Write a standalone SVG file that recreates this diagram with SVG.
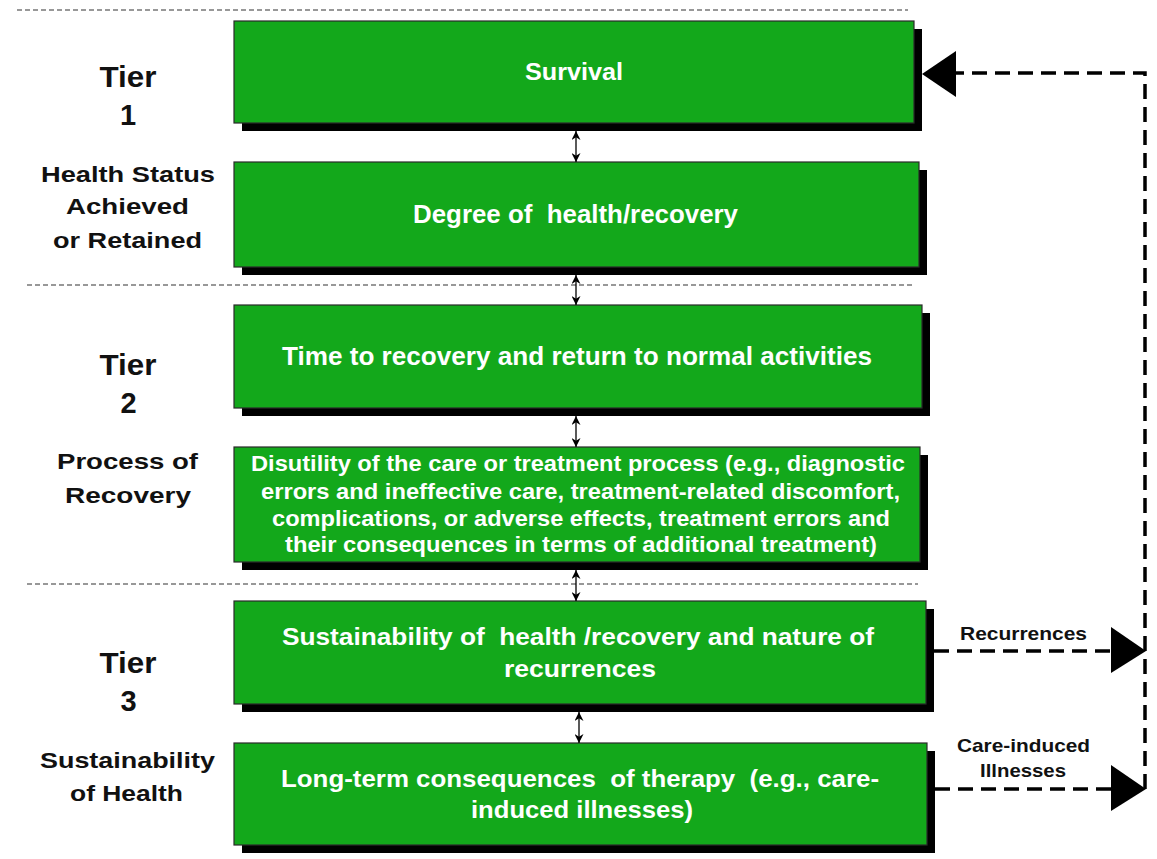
<svg xmlns="http://www.w3.org/2000/svg" width="1157" height="859" viewBox="0 0 1157 859">
<style>
.box{fill:#13a81b;stroke:#2a2a2a;stroke-width:1.2}
.shadow{fill:#000}
.bt{font-family:"Liberation Sans",Arial,sans-serif;font-weight:bold;fill:#fff;text-anchor:middle}
.lt{font-family:"Liberation Sans",Arial,sans-serif;font-weight:bold;fill:#111;text-anchor:middle}
.sep{stroke:#777;stroke-width:1.5;stroke-dasharray:5 3;fill:none}
.fb{stroke:#000;stroke-width:3.5;stroke-dasharray:15 8;fill:none}
.dbl{stroke:#000;stroke-width:1.3;fill:none;marker-start:url(#sh);marker-end:url(#sh)}
</style>
<defs>
<marker id="sh" viewBox="0 0 10 10" refX="10" refY="5" markerWidth="9" markerHeight="9" markerUnits="userSpaceOnUse" orient="auto-start-reverse">
<path d="M0,0 L10,5 L0,10 L3,5 Z" fill="#000"/>
</marker>
</defs>

<g id="separators">
<line class="sep" x1="17" y1="10" x2="908" y2="10"/>
<line class="sep" x1="27" y1="285" x2="915" y2="285"/>
<line class="sep" x1="27" y1="584" x2="918" y2="584"/>
</g>

<g id="tier-labels">
<text class="lt" x="128" y="87" font-size="29" textLength="57" lengthAdjust="spacingAndGlyphs">Tier</text>
<text class="lt" x="128" y="125" font-size="29">1</text>
<text class="lt" x="128" y="182" font-size="22.5" textLength="174" lengthAdjust="spacingAndGlyphs">Health Status</text>
<text class="lt" x="127.5" y="214" font-size="22.5" textLength="123" lengthAdjust="spacingAndGlyphs">Achieved</text>
<text class="lt" x="127.5" y="248" font-size="22.5" textLength="149" lengthAdjust="spacingAndGlyphs">or Retained</text>
<text class="lt" x="128" y="375" font-size="29" textLength="57" lengthAdjust="spacingAndGlyphs">Tier</text>
<text class="lt" x="128.5" y="413" font-size="29">2</text>
<text class="lt" x="127.5" y="469" font-size="22.5" textLength="141" lengthAdjust="spacingAndGlyphs">Process of</text>
<text class="lt" x="128" y="503" font-size="22.5" textLength="126" lengthAdjust="spacingAndGlyphs">Recovery</text>
<text class="lt" x="128" y="673" font-size="29" textLength="57" lengthAdjust="spacingAndGlyphs">Tier</text>
<text class="lt" x="128.5" y="711" font-size="29">3</text>
<text class="lt" x="127.5" y="768" font-size="22.5" textLength="175" lengthAdjust="spacingAndGlyphs">Sustainability</text>
<text class="lt" x="126.5" y="801" font-size="22.5" textLength="113" lengthAdjust="spacingAndGlyphs">of Health</text>
</g>

<g id="node-survival">
<rect class="shadow" x="242" y="29" width="680" height="102"/>
<rect class="box" x="234" y="21" width="680" height="102"/>
<text class="bt" x="574" y="80" font-size="24" textLength="98" lengthAdjust="spacingAndGlyphs">Survival</text>
</g>

<g id="node-degree">
<rect class="shadow" x="242" y="170" width="685" height="105"/>
<rect class="box" x="234" y="162" width="685" height="105"/>
<text class="bt" x="575.5" y="223" font-size="25" textLength="325" lengthAdjust="spacingAndGlyphs" xml:space="preserve">Degree of  health/recovery</text>
</g>

<g id="node-time">
<rect class="shadow" x="242" y="313" width="688" height="103"/>
<rect class="box" x="234" y="305" width="688" height="103"/>
<text class="bt" x="577" y="365" font-size="25" textLength="590" lengthAdjust="spacingAndGlyphs">Time to recovery and return to normal activities</text>
</g>

<g id="node-disutility">
<rect class="shadow" x="242" y="455" width="686" height="115"/>
<rect class="box" x="234" y="447" width="686" height="115"/>
<text class="bt" x="578" y="471" font-size="21.5" textLength="654" lengthAdjust="spacingAndGlyphs">Disutility of the care or treatment process (e.g., diagnostic</text>
<text class="bt" x="580.5" y="499" font-size="21.5" textLength="639" lengthAdjust="spacingAndGlyphs">errors and ineffective care, treatment-related discomfort,</text>
<text class="bt" x="581" y="526" font-size="21.5" textLength="618" lengthAdjust="spacingAndGlyphs">complications, or adverse effects, treatment errors and</text>
<text class="bt" x="581" y="552" font-size="21.5" textLength="592" lengthAdjust="spacingAndGlyphs">their consequences in terms of additional treatment)</text>
</g>

<g id="node-sustainability">
<rect class="shadow" x="242" y="609" width="692" height="103"/>
<rect class="box" x="234" y="601" width="692" height="103"/>
<text class="bt" x="578" y="645" font-size="24" textLength="592" lengthAdjust="spacingAndGlyphs" xml:space="preserve">Sustainability of  health /recovery and nature of</text>
<text class="bt" x="580" y="677" font-size="24" textLength="152" lengthAdjust="spacingAndGlyphs">recurrences</text>
</g>

<g id="node-longterm">
<rect class="shadow" x="242" y="751" width="693" height="102"/>
<rect class="box" x="234" y="743" width="693" height="102"/>
<text class="bt" x="580" y="787" font-size="24" textLength="598" lengthAdjust="spacingAndGlyphs" xml:space="preserve">Long-term consequences  of therapy  (e.g., care-</text>
<text class="bt" x="582" y="818" font-size="24" textLength="222" lengthAdjust="spacingAndGlyphs">induced illnesses)</text>
</g>

<g id="connectors">
<line class="dbl" x1="576" y1="131" x2="576" y2="162"/>
<line class="dbl" x1="576" y1="275" x2="576" y2="305"/>
<line class="dbl" x1="576" y1="416" x2="576" y2="447"/>
<line class="dbl" x1="576" y1="570" x2="576" y2="601"/>
<line class="dbl" x1="579" y1="712" x2="579" y2="743"/>
<path class="fb" d="M934,651 L1111,651"/>
<polygon points="1111,627 1146,651 1111,673" fill="#000"/>
<path class="fb" d="M935,789 L1111,789"/>
<polygon points="1111,765 1146,789 1111,811" fill="#000"/>
<path class="fb" d="M1145,789 L1145,73 L956,73"/>
<polygon points="956,51 922,74 956,97" fill="#000"/>
<text class="lt" x="1023.5" y="640" font-size="19" textLength="127" lengthAdjust="spacingAndGlyphs">Recurrences</text>
<text class="lt" x="1023.5" y="752" font-size="19" textLength="133" lengthAdjust="spacingAndGlyphs">Care-induced</text>
<text class="lt" x="1023" y="777" font-size="19" textLength="86" lengthAdjust="spacingAndGlyphs">Illnesses</text>
</g>
</svg>
